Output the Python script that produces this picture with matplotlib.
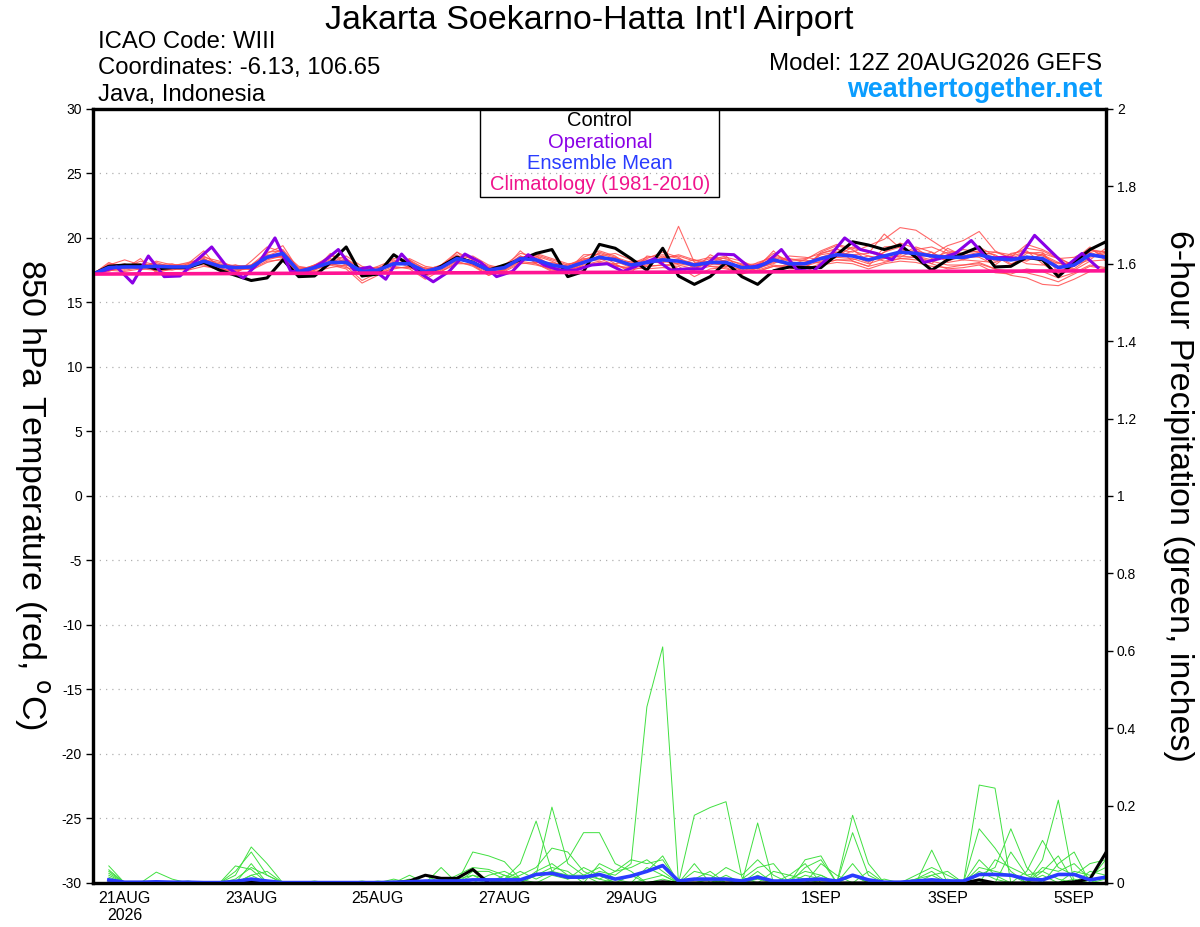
import numpy as np
import matplotlib
matplotlib.use("Agg")
import matplotlib.pyplot as plt
from matplotlib.patches import Rectangle

plt.rcParams['font.family'] = ['Liberation Sans', 'DejaVu Sans']
plt.rcParams['axes.unicode_minus'] = False

# forecast hours from 12Z 20AUG2026, 6-hourly
tick_hours = [12, 60, 108, 156, 204, 276, 324, 372]
tick_labels = ["21AUG\n2026", "23AUG", "25AUG", "27AUG", "29AUG", "1SEP", "3SEP", "5SEP"]

# 850 hPa temperature (C), hour 0..384
control_t = [17.2, 17.8, 17.9, 17.9, 17.6, 17.7, 17.7, 18.1, 17.5, 17.1,
             16.7, 16.9, 18.3, 17.0, 17.05, 18.1, 19.3, 17.05, 17.2, 18.7,
             17.9, 17.2, 17.8, 18.5, 18.1, 17.5, 17.9, 18.3, 18.8, 19.1,
             17.0, 17.4, 19.5, 19.2, 18.4, 17.5, 19.2, 17.05, 16.4, 17.0,
             18.1, 17.0, 16.4, 17.45, 17.75, 17.7, 17.7, 18.7, 19.7, 19.45,
             19.1, 19.45, 18.5, 17.5, 18.3, 18.8, 19.3, 17.75, 17.8, 18.5,
             18.3, 17.0, 18.1, 19.1, 19.7]

mean_t = [17.2, 17.7, 17.75, 17.75, 17.8, 17.75, 17.75, 18.2, 17.8, 17.7,
          17.75, 18.5, 18.8, 17.4, 17.7, 18.1, 18.1, 17.4, 17.5, 18.0,
          18.0, 17.4, 17.7, 18.4, 18.1, 17.5, 17.7, 18.4, 18.3, 17.9,
          17.7, 18.1, 18.5, 18.3, 17.9, 18.1, 18.3, 18.2, 17.9, 18.1,
          18.1, 17.7, 17.75, 18.3, 18.0, 18.0, 18.4, 18.7, 18.6, 18.3,
          18.6, 18.9, 18.8, 18.6, 18.5, 18.5, 18.7, 18.4, 18.3, 18.5,
          18.4, 17.7, 17.9, 18.7, 18.5]

# operational: hour 0, then 9, 15, 21, ...
oper_hours = [0] + [9 + 6 * k for k in range(63)]
oper_t = [17.2,
          17.75, 16.5, 18.6, 17.0, 17.05, 18.2, 19.3, 17.7, 16.9, 18.1,
          20.0, 17.4, 17.4, 18.1, 19.1, 17.5, 17.75, 16.8, 18.75, 17.4,
          16.6, 17.4, 18.75, 18.1, 17.0, 17.4, 18.7, 17.9, 17.5, 17.5,
          17.9, 18.0, 17.4, 17.9, 18.4, 17.5, 17.6, 17.6, 18.75, 18.7,
          17.7, 18.0, 19.1, 17.5, 17.4, 18.5, 20.0, 19.1, 18.8, 18.3,
          19.8, 18.1, 18.4, 18.8, 19.8, 18.4, 18.5, 18.4, 20.2, 19.0,
          17.8, 18.8, 17.7]

clim_hours = [0, 96, 192, 288, 384]
clim_t = [17.2, 17.27, 17.33, 17.39, 17.45]

ens_t = [
    [17.2, 17.9, 18.3, 17.9, 18.0, 17.6, 17.9, 18.6, 17.9, 17.5, 17.9, 18.9, 19.0, 17.3, 17.9, 18.6, 18.4, 17.2, 17.6, 18.4,
     18.3, 17.1, 17.9, 18.9, 18.3, 17.3, 17.9, 18.8, 18.6, 17.8, 17.6, 18.5, 19.0, 18.6, 17.7, 18.4, 18.9, 18.5, 17.6, 18.3,
     18.6, 17.4, 17.9, 18.8, 18.2, 17.7, 18.9, 19.4, 19.1, 18.2, 18.9, 19.6, 19.2, 18.4, 18.9, 18.7, 19.3, 18.6, 17.9, 18.8,
     18.9, 17.3, 17.8, 19.0, 18.9],
    [17.2, 17.5, 17.4, 17.6, 17.5, 17.9, 17.5, 17.8, 17.6, 17.9, 17.5, 18.1, 18.4, 17.6, 17.4, 17.7, 17.9, 17.7, 17.3, 17.6,
     17.8, 17.7, 17.4, 18.0, 18.0, 17.7, 17.4, 18.0, 18.1, 18.1, 17.8, 17.7, 18.0, 18.0, 18.2, 17.8, 17.9, 18.0, 18.3, 17.8,
     17.8, 17.9, 17.4, 17.8, 17.9, 18.3, 18.0, 18.3, 18.3, 18.6, 18.2, 18.4, 18.5, 18.9, 18.1, 18.3, 18.2, 18.1, 18.6, 18.0,
     17.9, 18.1, 17.5, 18.2, 18.3],
    [17.2, 18.1, 17.6, 18.4, 17.3, 17.6, 18.0, 19.0, 17.5, 17.2, 18.2, 19.3, 18.9, 17.0, 17.5, 18.8, 18.0, 17.0, 17.2, 18.7,
     17.9, 17.0, 17.6, 18.9, 17.9, 17.1, 17.6, 19.0, 18.0, 17.4, 17.5, 18.7, 18.7, 18.0, 17.3, 18.6, 18.4, 17.6, 17.5, 18.7,
     18.1, 17.2, 17.7, 19.0, 17.8, 17.6, 18.8, 19.2, 18.2, 17.8, 19.3, 19.4, 18.6, 18.0, 19.2, 18.6, 18.5, 17.9, 18.8, 19.0,
     18.0, 17.2, 18.3, 19.3, 18.2],
    [17.2, 17.7, 18.0, 17.5, 17.9, 18.0, 17.6, 18.3, 18.1, 17.8, 17.6, 18.6, 19.1, 17.6, 17.8, 18.0, 18.4, 17.6, 17.7, 17.9,
     18.3, 17.6, 17.8, 18.2, 18.4, 17.8, 17.5, 18.5, 18.6, 18.2, 17.6, 18.0, 18.9, 18.5, 18.1, 18.3, 18.0, 20.9, 18.1, 17.9,
     18.3, 18.0, 17.6, 18.1, 18.4, 18.2, 18.1, 18.5, 19.0, 18.6, 18.4, 18.7, 19.3, 18.9, 18.2, 18.6, 18.9, 18.7, 18.0, 18.3,
     18.7, 18.1, 17.6, 18.5, 18.8],
    [17.2, 17.4, 17.9, 17.7, 17.6, 17.5, 17.8, 18.0, 17.6, 17.4, 17.8, 18.3, 18.6, 17.1, 17.5, 18.0, 17.8, 16.7, 17.3, 17.8,
     17.6, 16.8, 17.5, 18.2, 17.8, 17.1, 17.6, 18.2, 18.0, 17.5, 17.4, 17.9, 18.2, 17.9, 17.5, 17.8, 17.9, 17.8, 17.0, 17.6,
     17.7, 17.2, 17.5, 17.9, 17.7, 17.4, 17.9, 18.1, 18.0, 17.6, 18.0, 18.2, 18.1, 17.8, 17.7, 17.9, 18.0, 17.6, 17.4, 17.3,
     17.0, 16.6, 17.2, 17.8, 17.6],
    [17.2, 17.8, 17.7, 18.2, 17.9, 17.8, 18.1, 18.4, 17.7, 17.8, 17.9, 18.7, 18.5, 17.5, 17.8, 18.3, 18.0, 17.5, 17.6, 18.2,
     17.9, 17.5, 17.9, 18.6, 18.0, 17.6, 17.8, 18.3, 18.5, 17.9, 17.9, 18.4, 18.4, 18.3, 18.0, 17.9, 18.5, 18.6, 18.2, 18.5,
     18.4, 17.9, 18.0, 18.6, 18.3, 18.4, 18.8, 19.1, 18.9, 19.4, 19.9, 20.8, 20.6, 19.8, 19.0, 18.8, 19.0, 18.9, 18.7, 19.2,
     19.0, 18.4, 18.5, 19.1, 18.6],
    [17.2, 17.6, 17.8, 17.6, 18.1, 17.7, 17.7, 18.1, 18.0, 17.6, 17.7, 18.4, 18.9, 17.8, 17.6, 17.9, 18.3, 17.6, 17.4, 18.1,
     18.1, 17.3, 17.7, 18.3, 18.2, 17.5, 17.7, 18.6, 18.1, 18.0, 17.8, 18.2, 18.3, 18.5, 17.8, 18.2, 18.1, 18.3, 17.7, 18.2,
     18.0, 17.8, 17.9, 18.4, 17.9, 18.1, 18.5, 18.9, 18.7, 18.8, 20.3, 19.2, 18.5, 18.7, 19.4, 19.8, 20.5, 19.0, 18.4, 18.9,
     18.6, 18.0, 18.1, 18.9, 18.4],
    [17.2, 17.7, 17.6, 17.8, 17.7, 17.9, 17.8, 18.3, 17.9, 17.6, 17.6, 18.5, 18.7, 17.3, 17.6, 18.2, 18.2, 17.3, 17.5, 18.1,
     18.0, 17.4, 17.6, 18.5, 18.2, 17.4, 17.6, 18.5, 18.3, 17.7, 17.5, 18.0, 18.6, 18.2, 17.7, 18.1, 18.2, 18.0, 17.8, 18.0,
     17.9, 17.5, 17.6, 18.2, 17.9, 17.8, 18.2, 18.5, 18.4, 18.0, 18.4, 18.6, 18.5, 18.2, 17.9, 17.9, 18.1, 17.6, 17.1, 16.9,
     16.4, 16.3, 16.8, 17.4, 17.5],
    [17.2, 17.9, 17.8, 17.9, 17.6, 17.8, 17.6, 18.4, 17.8, 17.9, 17.7, 18.8, 19.4, 17.5, 17.9, 18.4, 17.9, 17.5, 17.7, 18.0,
     18.2, 17.6, 17.8, 18.6, 18.1, 17.7, 17.9, 18.4, 18.7, 18.3, 17.9, 18.3, 18.8, 18.4, 18.0, 18.5, 18.7, 18.4, 18.0, 18.4,
     18.2, 17.6, 17.8, 18.5, 18.2, 18.3, 19.0, 19.5, 19.2, 18.9, 18.5, 19.0, 19.0, 18.7, 18.6, 18.3, 18.8, 18.5, 18.6, 18.9,
     18.7, 17.8, 18.2, 19.1, 18.9],
    [17.2, 17.6, 17.5, 17.7, 17.8, 17.6, 17.9, 17.9, 17.5, 17.5, 17.6, 18.2, 18.3, 17.2, 17.3, 17.9, 17.6, 16.5, 17.1, 17.7,
     17.7, 17.2, 17.4, 18.1, 17.9, 17.3, 17.5, 18.1, 17.9, 17.6, 17.5, 17.8, 18.1, 17.8, 17.7, 17.6, 17.7, 17.6, 17.5, 17.8,
     17.6, 17.3, 17.4, 17.8, 17.6, 17.6, 18.0, 18.3, 18.2, 17.8, 18.1, 18.4, 18.3, 18.0, 17.6, 17.7, 17.9, 17.3, 17.2, 17.6,
     17.4, 16.9, 17.3, 17.9, 17.7],
    [17.2, 18.0, 17.9, 17.6, 18.2, 17.9, 18.0, 18.5, 18.2, 17.7, 17.8, 18.4, 18.6, 17.7, 17.7, 18.1, 18.6, 17.8, 17.5, 17.9,
     18.4, 17.8, 17.6, 18.3, 18.6, 17.9, 17.6, 18.2, 18.8, 18.4, 18.0, 18.1, 18.6, 18.8, 18.3, 18.0, 18.4, 18.7, 18.3, 18.1,
     18.5, 18.2, 17.7, 18.0, 18.6, 18.5, 18.3, 18.6, 19.3, 19.0, 18.7, 18.5, 19.1, 19.3, 18.8, 18.4, 18.6, 18.9, 18.5, 18.2,
     18.8, 18.4, 17.9, 18.3, 19.2],
    [17.2, 17.5, 17.7, 18.0, 17.4, 17.6, 17.5, 18.2, 17.7, 17.3, 17.9, 18.6, 18.5, 17.4, 17.9, 18.0, 17.7, 17.4, 17.8, 18.3,
     17.7, 17.3, 17.9, 18.7, 17.9, 17.5, 17.8, 18.6, 18.2, 17.6, 17.7, 18.3, 18.4, 17.9, 17.6, 18.2, 18.6, 17.9, 17.6, 18.1,
     17.8, 17.5, 18.1, 18.5, 17.8, 17.9, 18.7, 18.9, 18.6, 18.1, 18.9, 19.3, 18.6, 18.3, 18.7, 19.1, 18.9, 18.2, 18.5, 19.5,
     19.1, 18.5, 17.8, 18.6, 18.9],
]

# 6-hour precipitation (inches), hour 6..384
control_p = [0.0, 0.0, 0.0, 0.0, 0.0, 0.0, 0.0, 0.0,
             0.0, 0.005, 0.0, 0.0, 0.0, 0.0, 0.0, 0.0,
             0.0, 0.0, 0.0, 0.005, 0.02, 0.012, 0.012, 0.035,
             0.0, 0.0, 0.0, 0.0, 0.0, 0.0, 0.0, 0.0,
             0.0, 0.0, 0.0, 0.003, 0.0, 0.0, 0.0, 0.0,
             0.0, 0.0, 0.0, 0.0, 0.0, 0.0, 0.0, 0.0,
             0.0, 0.0, 0.0, 0.0, 0.0, 0.0, 0.0, 0.008,
             0.0, 0.0, 0.0, 0.0, 0.0, 0.003, 0.01, 0.078]

mean_p = [0.008, 0.002, 0.002, 0.003, 0.002, 0.002, 0.001, 0.001,
          0.004, 0.01, 0.005, 0.001, 0.001, 0.001, 0.001, 0.001,
          0.001, 0.001, 0.002, 0.003, 0.005, 0.005, 0.005, 0.008,
          0.008, 0.008, 0.008, 0.022, 0.025, 0.015, 0.015, 0.022,
          0.01, 0.018, 0.03, 0.045, 0.005, 0.01, 0.01, 0.01,
          0.005, 0.015, 0.005, 0.005, 0.008, 0.01, 0.005, 0.02,
          0.008, 0.002, 0.002, 0.005, 0.008, 0.005, 0.005, 0.022,
          0.022, 0.02, 0.01, 0.008, 0.022, 0.022, 0.008, 0.015]

ens_p = [
    [0.044, 0.0, 0.0, 0.005, 0.0, 0.0, 0.0, 0.0, 0.02, 0.093, 0.05, 0.0, 0.0, 0.0, 0.0, 0.0,
     0.0, 0.005, 0.0, 0.01, 0.0, 0.0, 0.01, 0.02, 0.01, 0.0, 0.0, 0.03, 0.05, 0.02, 0.01, 0.03,
     0.02, 0.05, 0.455, 0.61, 0.0, 0.0, 0.01, 0.0, 0.0, 0.01, 0.0, 0.0, 0.02, 0.01, 0.0, 0.02,
     0.0, 0.0, 0.0, 0.0, 0.01, 0.0, 0.0, 0.03, 0.01, 0.0, 0.0, 0.02, 0.0, 0.01, 0.0, 0.02],
    [0.034, 0.0, 0.0, 0.0, 0.0, 0.0, 0.0, 0.0, 0.03, 0.08, 0.02, 0.0, 0.0, 0.0, 0.0, 0.0,
     0.0, 0.0, 0.01, 0.0, 0.005, 0.0, 0.0, 0.01, 0.0, 0.02, 0.01, 0.02, 0.03, 0.01, 0.02, 0.0,
     0.01, 0.02, 0.0, 0.01, 0.0, 0.175, 0.195, 0.21, 0.015, 0.0, 0.0, 0.01, 0.03, 0.02, 0.0, 0.0,
     0.0, 0.01, 0.0, 0.01, 0.02, 0.0, 0.0, 0.253, 0.245, 0.0, 0.0, 0.03, 0.01, 0.0, 0.0, 0.01],
    [0.03, 0.0, 0.0, 0.028, 0.01, 0.0, 0.0, 0.0, 0.0, 0.05, 0.0, 0.0, 0.0, 0.0, 0.0, 0.0,
     0.0, 0.0, 0.0, 0.02, 0.0, 0.04, 0.0, 0.08, 0.07, 0.055, 0.01, 0.02, 0.196, 0.05, 0.02, 0.01,
     0.0, 0.0, 0.01, 0.02, 0.0, 0.0, 0.0, 0.01, 0.0, 0.155, 0.0, 0.0, 0.0, 0.02, 0.0, 0.0,
     0.0, 0.0, 0.0, 0.0, 0.0, 0.0, 0.0, 0.14, 0.09, 0.03, 0.0, 0.06, 0.214, 0.0, 0.0, 0.0],
    [0.025, 0.0, 0.0, 0.0, 0.0, 0.0, 0.0, 0.0, 0.044, 0.035, 0.0, 0.0, 0.0, 0.0, 0.0, 0.0,
     0.0, 0.0, 0.005, 0.0, 0.02, 0.0, 0.0, 0.03, 0.03, 0.01, 0.05, 0.16, 0.03, 0.06, 0.13, 0.13,
     0.05, 0.03, 0.0, 0.0, 0.0, 0.01, 0.03, 0.0, 0.0, 0.03, 0.0, 0.0, 0.06, 0.07, 0.0, 0.175,
     0.05, 0.0, 0.0, 0.0, 0.085, 0.0, 0.0, 0.02, 0.04, 0.14, 0.04, 0.0, 0.05, 0.08, 0.0, 0.0],
    [0.02, 0.0, 0.0, 0.0, 0.0, 0.005, 0.0, 0.0, 0.0, 0.02, 0.0, 0.0, 0.0, 0.0, 0.0, 0.0,
     0.0, 0.0, 0.0, 0.0, 0.0, 0.0, 0.01, 0.0, 0.0, 0.0, 0.02, 0.04, 0.09, 0.08, 0.03, 0.01,
     0.03, 0.06, 0.05, 0.06, 0.0, 0.0, 0.01, 0.04, 0.02, 0.06, 0.02, 0.0, 0.04, 0.06, 0.0, 0.13,
     0.02, 0.0, 0.0, 0.01, 0.03, 0.0, 0.0, 0.06, 0.02, 0.0, 0.03, 0.11, 0.04, 0.02, 0.05, 0.06],
    [0.015, 0.0, 0.0, 0.0, 0.0, 0.0, 0.0, 0.0, 0.0, 0.02, 0.03, 0.0, 0.0, 0.0, 0.0, 0.0,
     0.005, 0.0, 0.0, 0.0, 0.0, 0.0, 0.02, 0.04, 0.035, 0.02, 0.0, 0.02, 0.04, 0.03, 0.0, 0.05,
     0.03, 0.04, 0.06, 0.03, 0.0, 0.03, 0.02, 0.0, 0.01, 0.04, 0.05, 0.0, 0.0, 0.05, 0.02, 0.0,
     0.03, 0.0, 0.0, 0.0, 0.02, 0.03, 0.0, 0.0, 0.06, 0.04, 0.02, 0.03, 0.07, 0.0, 0.03, 0.02],
    [0.01, 0.0, 0.0, 0.0, 0.0, 0.0, 0.0, 0.0, 0.0, 0.01, 0.0, 0.0, 0.0, 0.005, 0.0, 0.0,
     0.0, 0.0, 0.0, 0.0, 0.0, 0.01, 0.0, 0.0, 0.02, 0.03, 0.01, 0.0, 0.02, 0.01, 0.04, 0.02,
     0.0, 0.02, 0.03, 0.07, 0.0, 0.0, 0.0, 0.0, 0.0, 0.0, 0.03, 0.02, 0.01, 0.0, 0.0, 0.05,
     0.0, 0.0, 0.0, 0.02, 0.04, 0.02, 0.0, 0.0, 0.0, 0.08, 0.02, 0.0, 0.0, 0.03, 0.02, 0.04],
    [0.0, 0.0, 0.0, 0.0, 0.0, 0.0, 0.0, 0.0, 0.01, 0.04, 0.02, 0.0, 0.0, 0.0, 0.0, 0.0,
     0.0, 0.0, 0.0, 0.0, 0.0, 0.005, 0.0, 0.02, 0.0, 0.01, 0.03, 0.01, 0.03, 0.02, 0.02, 0.04,
     0.01, 0.0, 0.04, 0.02, 0.0, 0.05, 0.0, 0.02, 0.0, 0.02, 0.0, 0.02, 0.05, 0.0, 0.0, 0.02,
     0.0, 0.0, 0.0, 0.0, 0.0, 0.01, 0.0, 0.04, 0.03, 0.02, 0.0, 0.04, 0.03, 0.05, 0.01, 0.06],
]


def hours(series, start=0):
    return start + 6 * np.arange(len(series))


fig = plt.figure(figsize=(12, 9.27), dpi=100)
ax = fig.add_axes([0.0775, 0.0475, 0.844, 0.835])
ax2 = ax.twinx()

# temperature
for m in ens_t:
    ax.plot(hours(m), m, color="#ff4d4d", lw=0.8, alpha=0.85, zorder=2)
ax.plot(hours(control_t), control_t, color="black", lw=2.2, zorder=3)
ax.plot(oper_hours[:len(oper_t)], oper_t, color="#8a00e6", lw=2.2, zorder=4)
ax.plot(hours(mean_t), mean_t, color="#2a3cff", lw=2.6, zorder=5)
ax.plot(clim_hours, clim_t, color="#ff1493", lw=2.6, zorder=6)

for y in range(-25, 30, 5):
    ax.axhline(y, color="#b0b0b0", lw=0.9, ls=(0, (1, 4)), zorder=1)

# precipitation
for m in ens_p:
    ax2.plot(hours(m, 6), m, color="#40e040", lw=0.7)
ax2.plot(hours(control_p, 6), control_p, color="black", lw=2.2)
ax2.plot(hours(mean_p, 6), mean_p, color="#2a3cff", lw=2.6)

ax.set_xlim(0, 384)
ax.set_ylim(-30, 30)
ax2.set_ylim(0, 2)
ax.set_yticks(range(-30, 31, 5))
ax2.set_yticks(np.arange(0, 2.01, 0.2))
ax2.set_yticklabels(["%g" % round(v, 1) for v in np.arange(0, 2.01, 0.2)])
ax.set_xticks(tick_hours)
ax.set_xticklabels(tick_labels, linespacing=1.15)

ax.tick_params(axis="x", length=0, pad=6, labelsize=11.5)
ax.tick_params(axis="y", direction="out", length=5, width=1, labelsize=10, pad=3)
ax2.tick_params(axis="y", direction="out", length=5, width=1, labelsize=10, pad=3)
for a in (ax, ax2):
    for s in a.spines.values():
        s.set_linewidth(2.3)

# legend box
ax.add_patch(Rectangle((0.382, 0.886), 0.236, 0.114, transform=ax.transAxes,
                       fill=False, ec="black", lw=1.0, zorder=7, clip_on=False))
leg = [("Control", "black"), ("Operational", "#8a00e6"),
       ("Ensemble Mean", "#2a3cff"), ("Climatology (1981-2010)", "#f0148c")]
for (txt, col), yy in zip(leg, [0.9845, 0.957, 0.930, 0.902]):
    ax.text(0.5005, yy, txt, color=col, fontsize=14.5, ha="center", va="center",
            transform=ax.transAxes, zorder=8)

fig.text(0.026, 0.466, r"850 hPa Temperature (red, $^\mathrm{o}$C)", fontsize=24.5,
         rotation=270, ha="center", va="center")
fig.text(0.982, 0.465, "6-hour Precipitation (green, inches)", fontsize=24.5,
         rotation=270, ha="center", va="center")

fig.text(0.491, 0.978, "Jakarta Soekarno-Hatta Int'l Airport", fontsize=24.5,
         ha="center", va="center")
fig.text(0.0817, 0.955, "ICAO Code: WIII", fontsize=17.2, va="center")
fig.text(0.0817, 0.927, "Coordinates: -6.13, 106.65", fontsize=17.2, va="center")
fig.text(0.0817, 0.898, "Java, Indonesia", fontsize=17.2, va="center")
fig.text(0.9183, 0.931, "Model: 12Z 20AUG2026 GEFS", fontsize=17.4, ha="right", va="center")
fig.text(0.9183, 0.903, "weathertogether.net", fontsize=19.4, fontweight="bold",
         color="#0a9dff", ha="right", va="center")

plt.savefig("out.png", dpi=100)
